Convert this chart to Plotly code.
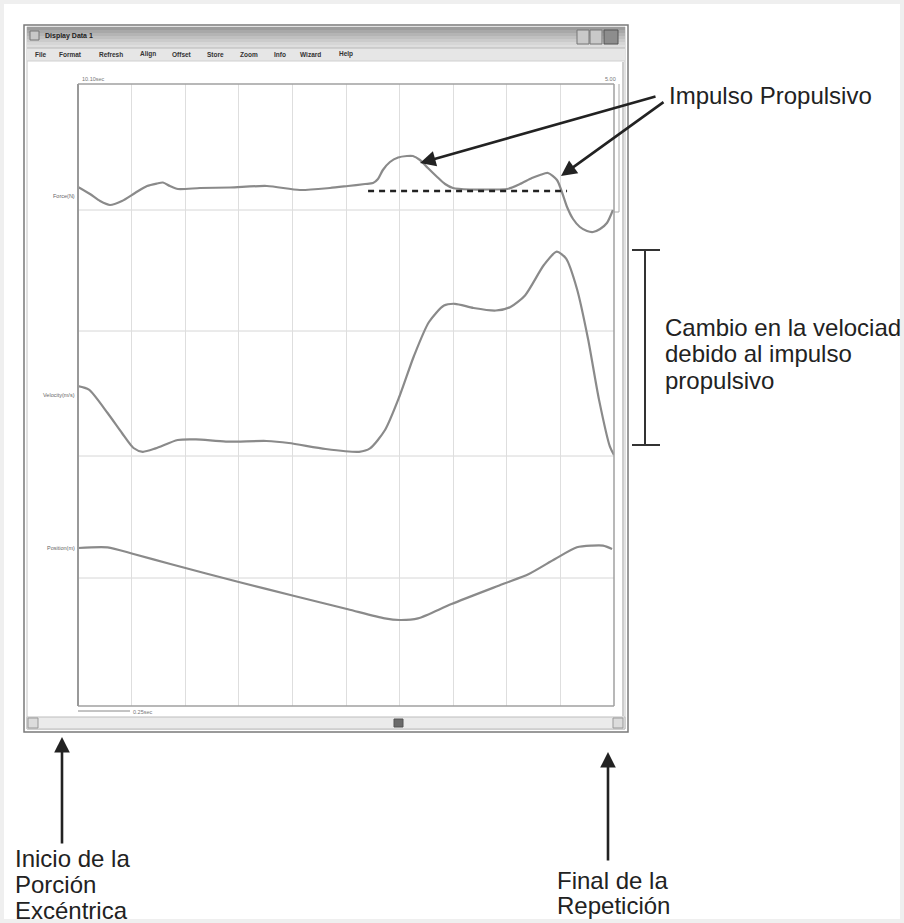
import plotly.graph_objects as go

# ---------------- data ----------------
force_t = [0, 0.056, 0.103, 0.149, 0.205, 0.266, 0.322, 0.368, 0.396, 0.429, 0.466, 0.569, 0.709,
           0.881, 1.035, 1.175, 1.259, 1.339, 1.376, 1.399, 1.422, 1.455, 1.493, 1.534, 1.562, 1.595,
           1.632, 1.674, 1.712, 1.749, 1.828, 1.922, 2.001, 2.061, 2.117, 2.155, 2.192, 2.234, 2.257,
           2.281, 2.309, 2.341, 2.374, 2.402, 2.435, 2.467, 2.495]
force_n = [1020, 880, 740, 660, 740, 900, 1040, 1090, 1110, 1040, 980, 1000, 1010,
           1040, 960, 1000, 1040, 1080, 1100, 1180, 1360, 1520, 1610, 1640, 1640, 1560,
           1400, 1226, 1080, 1000, 970, 970, 980, 1080, 1200, 1260, 1300, 1160, 920,
           620, 380, 220, 140, 120, 180, 300, 560]

vel_t = [0, 0.051, 0.138, 0.205, 0.259, 0.302, 0.362, 0.465, 0.550, 0.690, 0.879, 0.983, 1.155,
         1.311, 1.362, 1.432, 1.500, 1.567, 1.637, 1.707, 1.758, 1.845, 1.949, 2.017, 2.085, 2.173,
         2.233, 2.276, 2.327, 2.379, 2.430, 2.481, 2.500]
vel_ms = [0, -0.018, -0.135, -0.235, -0.31, -0.329, -0.312, -0.27, -0.267, -0.278, -0.275, -0.285, -0.315,
          -0.329, -0.312, -0.22, -0.05, 0.15, 0.32, 0.4025, 0.411, 0.39, 0.3775, 0.395, 0.453, 0.605,
          0.6715, 0.638, 0.4865, 0.235, -0.068, -0.3035, -0.345]

pos_t = [0, 0.138, 0.259, 0.431, 0.759, 1.0, 1.259, 1.431, 1.5, 1.586, 1.742, 1.982, 2.103, 2.225,
         2.327, 2.397, 2.449, 2.491]
pos_m = [0, 0.0028, -0.024, -0.064, -0.138, -0.19, -0.245, -0.2816, -0.288, -0.2816, -0.224, -0.144,
         -0.104, -0.044, 0.0028, 0.0096, 0.0096, -0.004]

force_ref = [560]
vel_ref = [0.275, -0.35]
pos_ref = [-0.12]

impulse_base_t = [1.353, 2.281]
impulse_base_n = [940, 940]

time_range = [0, 2.5]
time_div = 0.25
force_range = [-9360, 3080]
vel_range = [-1.6, 1.51]
pos_range = [-0.632, 1.856]

channel_labels = ["Force(N)", "Velocity(m/s)", "Position(m)"]
menu_items = ["File", "Format", "Refresh", "Align", "Offset", "Store", "Zoom", "Info", "Wizard", "Help"]
window_title = "Display Data 1"

note_impulse = ["Impulso Propulsivo"]
note_velocity = ["Cambio en la velociad", "debido al impulso", "propulsivo"]
note_start = ["Inicio de la", "Porción", "Excéntrica"]
note_end = ["Final de la", "Repetición"]

# ---------------- layout helpers ----------------
W, H = 904, 923
def px(x): return x / W
def py(y): return 1 - y / H

FX0, FX1, FY0, FY1 = 78, 614, 84, 706
TXT = "Liberation Sans"
CURVE = "#8a8a8a"

fig = go.Figure()
fig.add_trace(go.Scatter(x=force_t, y=force_n, mode="lines", yaxis="y",
                         line=dict(color=CURVE, width=2.2, shape="spline", smoothing=0.7)))
fig.add_trace(go.Scatter(x=vel_t, y=vel_ms, mode="lines", yaxis="y2",
                         line=dict(color=CURVE, width=2.2, shape="spline", smoothing=0.7)))
fig.add_trace(go.Scatter(x=pos_t, y=pos_m, mode="lines", yaxis="y3",
                         line=dict(color=CURVE, width=2.2, shape="spline", smoothing=0.7)))
fig.add_trace(go.Scatter(x=impulse_base_t, y=impulse_base_n, mode="lines", yaxis="y",
                         line=dict(color="#222222", width=2.6, dash="6px,5px")))

shapes = []
def rect(x0, y0, x1, y1, fill=None, line="#888", lw=1, layer="below"):
    shapes.append(dict(type="rect", xref="paper", yref="paper", x0=px(x0), x1=px(x1),
                       y0=py(y1), y1=py(y0), fillcolor=fill if fill else "rgba(0,0,0,0)",
                       line=dict(color=line, width=lw), layer=layer))
def line(x0, y0, x1, y1, color="#888", lw=1, layer="above"):
    shapes.append(dict(type="line", xref="paper", yref="paper", x0=px(x0), x1=px(x1),
                       y0=py(y0), y1=py(y1), line=dict(color=color, width=lw), layer=layer))

# window
rect(24, 25, 628, 732, fill="white", line="#7a7a7a", lw=1.5)
rect(27, 27, 625, 729, line="#c4c4c4", lw=1)
# title bar gradient
grad = ["#9c9c9c", "#a8a8a8", "#b4b4b4", "#c0c0c0", "#cbcbcb", "#d6d6d6", "#dedede"]
for i, c in enumerate(grad):
    rect(27, 27 + i * 3, 625, 27 + (i + 1) * 3, fill=c, line=c, lw=0)
# menu bar
rect(27, 48, 625, 61, fill="#e6e6e6", line="#e6e6e6", lw=0)
line(27, 48, 625, 48, color="#b8b8b8")
line(27, 61, 625, 61, color="#d0d0d0")
# icon & buttons
rect(30, 31, 39, 40, fill="#c8c8c8", line="#777")
rect(577, 30, 589, 44, fill="#c9c9c9", line="#777")
rect(590, 30, 602, 44, fill="#c9c9c9", line="#777")
rect(604, 30, 618, 44, fill="#8d8d8d", line="#555")
# right side lines
line(619, 84, 619, 212, color="#aaaaaa")
line(614, 212, 619, 212, color="#aaaaaa")
line(623, 62, 623, 716, color="#9a9a9a", lw=1)
# reference lines
for v in force_ref:
    shapes.append(dict(type="line", xref="paper", yref="y", x0=px(FX0), x1=px(FX1), y0=v, y1=v,
                       line=dict(color="#d6d6d6", width=1), layer="below"))
for v in vel_ref:
    shapes.append(dict(type="line", xref="paper", yref="y2", x0=px(FX0), x1=px(FX1), y0=v, y1=v,
                       line=dict(color="#d6d6d6", width=1), layer="below"))
for v in pos_ref:
    shapes.append(dict(type="line", xref="paper", yref="y3", x0=px(FX0), x1=px(FX1), y0=v, y1=v,
                       line=dict(color="#d6d6d6", width=1), layer="below"))
# frame
line(FX0, FY0, FX1, FY0, color="#a0a0a0", lw=1.5)
line(FX0, FY1, FX1, FY1, color="#a0a0a0", lw=1.5)
line(FX0, FY0, FX0, FY1, color="#999999", lw=2)
line(FX1, FY0, FX1, FY1, color="#a0a0a0", lw=1.5)
# scale bar & scroll bar
line(78, 711, 130, 711, color="#888")
rect(27, 717, 625, 729, fill="#ebebeb", line="#bdbdbd")
rect(28, 718, 38, 728, fill="#dcdcdc", line="#999")
rect(613, 718, 623, 728, fill="#dcdcdc", line="#999")
rect(394, 719, 403, 727, fill="#6a6a6a", line="#555")
# bracket
line(645, 250, 645, 445, color="#333", lw=2)
line(632, 250, 660, 250, color="#333", lw=2)
line(632, 445, 660, 445, color="#333", lw=2)
# outer light border of picture
rect(0, 0, 904, 923, line="#efefef", lw=8, layer="above")

ann = []
def text(x, y, s, size=7, color="#333", anchor="left", bold=False, family=TXT):
    ann.append(dict(xref="paper", yref="paper", x=px(x), y=py(y), text=f"<b>{s}</b>" if bold else s,
                    showarrow=False, xanchor=anchor, yanchor="middle",
                    font=dict(family=family, size=size, color=color), align="left"))

text(43, 36, window_title, size=7, bold=True, color="#222")
menu_x = [33, 57, 97, 138, 170, 205, 238, 272, 298, 337]
for mx, m in zip(menu_x, menu_items):
    text(mx, 54, m, size=6.5, bold=True, color="#333")
text(80, 79, "10.10sec", size=5.5, color="#777")
text(618, 79, "5.00", size=5.5, color="#777", anchor="right")
text(131, 712, "0.25sec", size=5.5, color="#777")
for yy, lab in zip([196, 395, 548], channel_labels):
    text(77, yy, lab, size=5.5, color="#666", anchor="right")

BIG = 24
def block(x, y_first, lines, step=26.5):
    for i, s in enumerate(lines):
        text(x, y_first + i * step, s, size=BIG, color="#222")
block(667, 95, note_impulse)
block(663, 327, note_velocity)
block(13, 858, note_start, step=26)
block(555, 880, note_end, step=25.5)

def arrow(hx, hy, tx, ty):
    ann.append(dict(xref="paper", yref="paper", x=px(hx), y=py(hy), ax=tx - hx, ay=ty - hy,
                    axref="pixel", ayref="pixel", text="", showarrow=True, arrowhead=2,
                    arrowsize=1.2, arrowwidth=2.6, arrowcolor="#222"))
arrow(420, 163, 657, 96)
arrow(561, 176, 665, 101)
arrow(62, 737, 62, 845)
arrow(608, 752, 608, 862)

dom_y = [py(FY1), py(FY0)]
fig.update_layout(
    width=W, height=H, margin=dict(l=0, r=0, t=0, b=0),
    paper_bgcolor="white", plot_bgcolor="white", showlegend=False,
    xaxis=dict(domain=[px(FX0), px(FX1)], range=time_range, dtick=time_div, tick0=0,
               showgrid=True, gridcolor="#dedede", gridwidth=1, showticklabels=False,
               zeroline=False, showline=False, ticks=""),
    yaxis=dict(domain=dom_y, range=force_range, visible=False),
    yaxis2=dict(domain=dom_y, range=vel_range, visible=False, overlaying="y"),
    yaxis3=dict(domain=dom_y, range=pos_range, visible=False, overlaying="y"),
    shapes=shapes, annotations=ann,
)
fig.write_html("out.html", config={"displayModeBar": False},
               post_script="document.body.style.margin='0';document.body.style.overflow='hidden';")
